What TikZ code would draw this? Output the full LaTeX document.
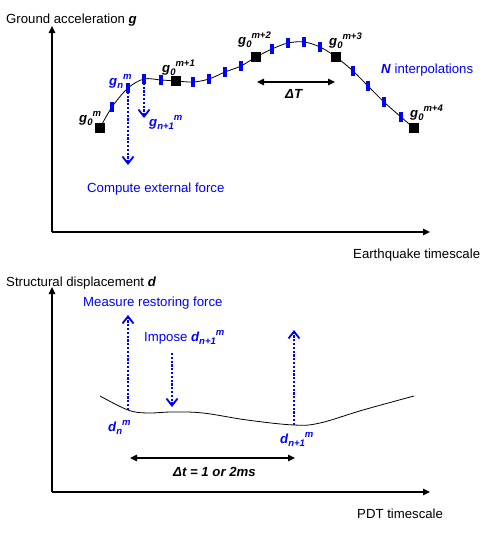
\documentclass[tikz,border=0pt]{standalone}
\usepackage{fontspec}
\setmainfont{Liberation Sans}
\usetikzlibrary{arrows.meta}
\definecolor{pblue}{RGB}{0,0,255}
\newcommand\gsym[3]{#1\raisebox{-3pt}{\fontsize{9.5}{10}\selectfont #2}\raisebox{5.5pt}{\fontsize{9.5}{10}\selectfont #3}}
\begin{document}
\begin{tikzpicture}[x=1pt,y=-1pt,
  lbl/.style={inner sep=0pt, font=\fontsize{13.2}{15}\selectfont, anchor=base west},
  sym/.style={lbl, font=\fontsize{13.2}{15}\selectfont\bfseries\itshape},
  axis/.style={line width=1.2pt, -{Triangle[length=7pt,width=6.5pt]}},
  span/.style={line width=1.1pt, {Triangle[length=7pt,width=6.5pt]}-{Triangle[length=7pt,width=6.5pt]}},
  sq/.style={fill=black, draw=none, minimum width=10pt, minimum height=10pt, inner sep=0pt},
  tick/.style={fill=pblue, draw=none, minimum width=4.5pt, minimum height=10pt, inner sep=0pt},
  dots/.style={pblue, line width=1.7pt, dash pattern=on 2.2pt off 1.6pt, -{Straight Barb[length=7pt,width=11pt,line width=1.8pt]}},
  curve/.style={line width=0.8pt}
]
\useasboundingbox (0,0) rectangle (499,533);

% ---------- top plot ----------
\coordinate (o1) at (52,232);
\coordinate (ytop) at (52,26);
\coordinate (xtop) at (430,232);
\draw[axis] (o1) -- (ytop);
\draw[axis] (o1) -- (xtop);
\node[lbl] (glabel) at (6,23) {Ground acceleration \textbf{\textit{g}}};
\node[lbl] (etime) at (353,258) {Earthquake timescale};

\coordinate (s0) at (100,128);
\coordinate (s1) at (176,81);
\coordinate (s2) at (256,57);
\coordinate (s3) at (336,57);
\coordinate (s4) at (414,128);
\foreach \x/\y [count=\i] in {112/107,128/88,144/79,161/80,193/82,209/79,225/72,241/66,272/49,288/43,304/42,320/47,353/71,368/86,384/102,401/117}
  \coordinate (t\i) at (\x,\y);

\draw[curve] plot[smooth, tension=0.55] coordinates {(s0) (t1) (t2) (t3) (t4) (s1) (t5) (t6) (t7) (t8) (s2) (t9) (t10) (t11) (t12) (s3) (t13) (t14) (t15) (t16) (s4)};

\foreach \i in {1,...,16} \node[tick] (tk\i) at (t\i) {};
\foreach \i in {0,...,4} \node[sq] (sq\i) at (s\i) {};

\node[sym] (lg0) at (79,122) {\gsym{g}{0}{m}};
\node[sym] (lg1) at (162,72) {\gsym{g}{0}{m+1}};
\node[sym] (lg2) at (238,44) {\gsym{g}{0}{m+2}};
\node[sym] (lg3) at (329,45) {\gsym{g}{0}{m+3}};
\node[sym] (lg4) at (410,117) {\gsym{g}{0}{m+4}};
\node[sym, pblue] (lgn) at (109,85) {\gsym{g}{n}{m}};
\node[sym, pblue] (lgn1) at (149,126) {\gsym{g}{n+1}{m}};
\node[lbl, pblue] (ninter) at (381,73) {\textbf{\textit{N}} interpolations};

\coordinate (dTa) at (257,82);
\coordinate (dTb) at (335,82);
\draw[span] (dTa) -- (dTb);
\node[sym] (dT) at (285,98) {ΔT};

\coordinate (cf) at (128,165);
\coordinate (gn1tip) at (144,118);
\draw[dots] (t2) -- (cf);
\draw[dots] (t3) -- (gn1tip);
\node[lbl, pblue] (compute) at (87,192) {Compute external force};

% ---------- bottom plot ----------
\coordinate (o2) at (52,492);
\coordinate (ytop2) at (52,287);
\coordinate (xbot) at (430,492);
\draw[axis] (o2) -- (ytop2);
\draw[axis] (o2) -- (xbot);
\node[lbl] (dlabel) at (6,286) {Structural displacement \textbf{\textit{d}}};
\node[lbl] (ptime) at (357,518) {PDT timescale};

\coordinate (dn) at (128,410);
\coordinate (di) at (172,412);
\coordinate (dn1) at (294,425);
\draw[curve] plot[smooth, tension=0.6] coordinates {(100,396) (dn) (147,413) (di) (203,413) (247,420) (dn1) (320,423) (363,410) (414,396)};

\coordinate (mtip) at (128,315);
\coordinate (itop) at (172,353);
\coordinate (itip) at (172,407);
\coordinate (rtip) at (294,330);
\draw[dots] (dn) -- (mtip);
\draw[dots] (itop) -- (itip);
\draw[dots] (dn1) -- (rtip);

\node[lbl, pblue] (measure) at (83,306) {Measure restoring force};
\node[lbl, pblue] (impose) at (144,341) {Impose \textbf{\textit{\gsym{d}{n+1}{m}}}};
\node[sym, pblue] (ldn) at (108,431) {\gsym{d}{n}{m}};
\node[sym, pblue] (ldn1) at (280,443) {\gsym{d}{n+1}{m}};

\coordinate (dta) at (130,458);
\coordinate (dtb) at (295,458);
\draw[span] (dta) -- (dtb);
\node[sym] (dt) at (173,476) {Δt = 1 or 2ms};
\end{tikzpicture}
\end{document}
